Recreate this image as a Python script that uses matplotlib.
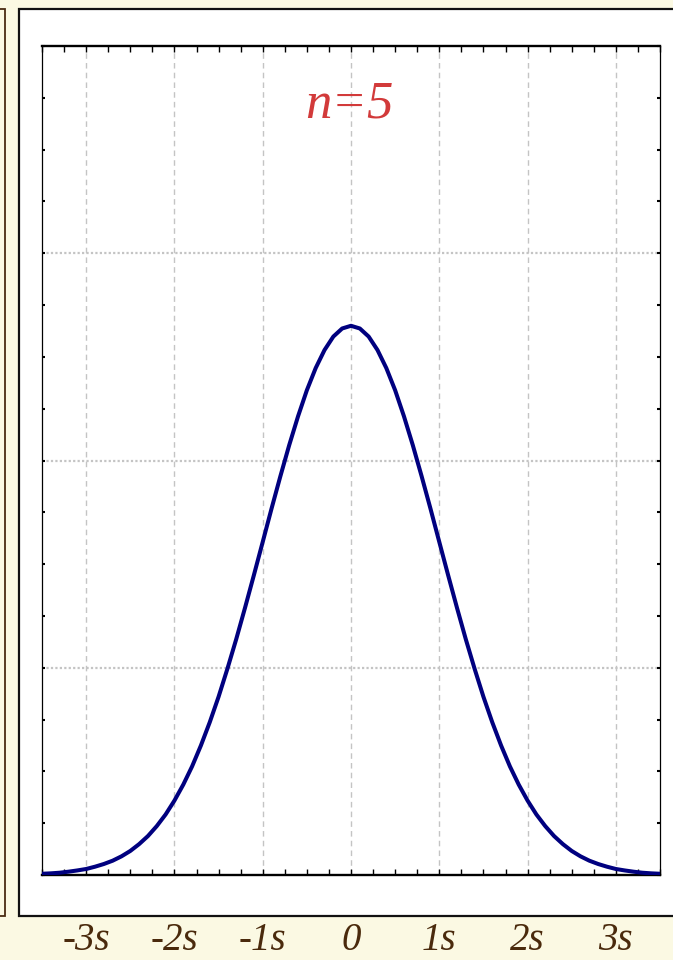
import numpy as np
import matplotlib
matplotlib.use("Agg")
import matplotlib.pyplot as plt
from matplotlib.patches import Rectangle
from matplotlib.ticker import MultipleLocator

# curve (x in units of s, height on a 0..0.4 scale)
x_vals = [-3.5, -3.4, -3.3, -3.2, -3.1, -3.0, -2.9, -2.8, -2.7, -2.6, -2.5, -2.4,
          -2.3, -2.2, -2.1, -2.0, -1.9, -1.8, -1.7, -1.6, -1.5, -1.4, -1.3, -1.2,
          -1.1, -1.0, -0.9, -0.8, -0.7, -0.6, -0.5, -0.4, -0.3, -0.2, -0.1, 0.0,
          0.1, 0.2, 0.3, 0.4, 0.5, 0.6, 0.7, 0.8, 0.9, 1.0, 1.1, 1.2,
          1.3, 1.4, 1.5, 1.6, 1.7, 1.8, 1.9, 2.0, 2.1, 2.2, 2.3, 2.4,
          2.5, 2.6, 2.7, 2.8, 2.9, 3.0, 3.1, 3.2, 3.3, 3.4, 3.5]
y_vals = [0.0006, 0.0008, 0.0011, 0.0016, 0.0022, 0.0029, 0.0040, 0.0053, 0.0069, 0.0090, 0.0116, 0.0149,
          0.0188, 0.0236, 0.0292, 0.0359, 0.0436, 0.0524, 0.0625, 0.0737, 0.0860, 0.0995, 0.1138, 0.1290,
          0.1447, 0.1607, 0.1768, 0.1924, 0.2074, 0.2213, 0.2339, 0.2446, 0.2533, 0.2598, 0.2637, 0.2650,
          0.2637, 0.2598, 0.2533, 0.2446, 0.2339, 0.2213, 0.2074, 0.1924, 0.1768, 0.1607, 0.1447, 0.1290,
          0.1138, 0.0995, 0.0860, 0.0737, 0.0625, 0.0524, 0.0436, 0.0359, 0.0292, 0.0236, 0.0188, 0.0149,
          0.0116, 0.0090, 0.0069, 0.0053, 0.0040, 0.0029, 0.0022, 0.0016, 0.0011, 0.0008, 0.0006]

tick_pos = [-3, -2, -1, 0, 1, 2, 3]
tick_labels = ["-3s", "-2s", "-1s", "0", "1s", "2s", "3s"]
grid_y = [0.1, 0.2, 0.3]
title = "n=5"

bg = "#fbf9e3"
fig = plt.figure(figsize=(6.73, 9.6), dpi=100, facecolor=bg)
W, H = 673.0, 960.0

# white panel and the edge of the neighbouring panel
fig.patches.append(Rectangle((18.5 / W, 1 - 916 / H), 700 / W, (916 - 8.5) / H,
                             transform=fig.transFigure, facecolor="white",
                             edgecolor="#111111", lw=1.6, zorder=-5))
fig.patches.append(Rectangle((-20 / W, 1 - 916 / H), 24.5 / W, (916 - 9) / H,
                             transform=fig.transFigure, facecolor="none",
                             edgecolor="#4a2c12", lw=1.3, zorder=-5))

ax = fig.add_axes([42 / W, 1 - 875 / H, (660 - 42) / W, (875 - 46) / H])
ax.set_zorder(2)
ax.set_facecolor("white")
ax.plot(x_vals, y_vals, color="#00007f", lw=2.9, solid_capstyle="round",
        solid_joinstyle="round", zorder=3)

ax.set_xlim(-3.5, 3.5)
ax.set_ylim(0, 0.4)

for xv in tick_pos:
    ax.axvline(xv, color="#c4c4c4", lw=1.0, ls=(0, (4, 3)), zorder=1)
for yv in grid_y:
    ax.axhline(yv, color="#c4c4c4", lw=1.6, ls=(0, (1, 1)), zorder=1)

ax.spines["top"].set_linewidth(1.7)
ax.spines["bottom"].set_linewidth(1.7)
ax.spines["left"].set_linewidth(0.9)
ax.spines["right"].set_linewidth(0.9)

ax.set_xticks(tick_pos)
ax.set_xticklabels(tick_labels, fontfamily="Liberation Serif", fontstyle="italic",
                   fontsize=28, color="#4a2a0c")
ax.xaxis.set_minor_locator(MultipleLocator(0.25))
ax.yaxis.set_major_locator(MultipleLocator(0.025))
ax.set_yticklabels([])
ax.tick_params(axis="x", which="both", direction="in", top=True, bottom=True,
               length=4, width=1.0, color="black", pad=34)
ax.tick_params(axis="y", which="both", direction="in", left=True, right=True,
               length=2, width=1.5, color="black")

fig.text(349 / W, 1 - 118 / H, title, fontfamily="Liberation Serif",
         fontstyle="italic", fontsize=38, color="#d23a3a", ha="center", va="baseline")

fig.savefig("out.png", dpi=100, facecolor=bg)
